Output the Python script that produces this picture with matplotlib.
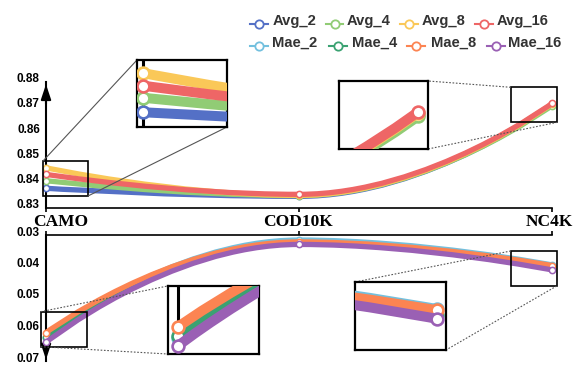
import numpy as np
import matplotlib
matplotlib.use('Agg')
import matplotlib.pyplot as plt
from matplotlib.path import Path
from matplotlib.patches import PathPatch, Rectangle
from matplotlib.lines import Line2D
from matplotlib.transforms import ScaledTranslation

# ---- data ----
cats = ['CAMO', 'COD10K', 'NC4K']
avg_names = ['Avg_2', 'Avg_4', 'Avg_8', 'Avg_16']
mae_names = ['Mae_2', 'Mae_4', 'Mae_8', 'Mae_16']
avg_2 = [0.8378, 0.8346, 0.8710]
avg_4 = [0.8408, 0.8349, 0.8705]
avg_8 = [0.8459, 0.8350, 0.8712]
avg_16 = [0.8433, 0.8354, 0.8714]
mae_2 = [0.0628, 0.0316, 0.0395]
mae_4 = [0.0625, 0.0325, 0.0405]
mae_8 = [0.0610, 0.0322, 0.0397]
mae_16 = [0.0641, 0.0330, 0.0411]
avg_ticks = [0.83, 0.84, 0.85, 0.86, 0.87, 0.88]
mae_ticks = [0.03, 0.04, 0.05, 0.06, 0.07]

avg_colors = ['#5470c6', '#91cc75', '#fac858', '#ee6666']
mae_colors = ['#73c0de', '#3ba272', '#fc8452', '#9a60b4']

W, H = 581, 371
fig = plt.figure(figsize=(W / 100, H / 100), dpi=100)


def box(l, t, r, b):
    # pixel box -> figure fraction rect
    return [l / W, 1 - b / H, (r - l) / W, (b - t) / H]


def fpt(px, py):
    return px / W, 1 - py / H


def smooth_path(ax, xs, ys, smooth=0.5):
    # echarts-like smoothing of a polyline (bezier control points in screen space)
    pts = ax.transData.transform(np.column_stack([xs, ys]))
    n = len(pts)
    verts = [pts[0]]
    codes = [Path.MOVETO]
    cp0 = pts[0]
    for i in range(1, n):
        x, y = pts[i]
        if i == n - 1:
            cp1 = pts[i]
            ncp0 = None
        else:
            px_, py_ = pts[i - 1]
            nx, ny = pts[i + 1]
            vx, vy = nx - px_, ny - py_
            l0 = np.hypot(x - px_, y - py_)
            l1 = np.hypot(nx - x, ny - y)
            r = l1 / (l0 + l1)
            ncx, ncy = x + vx * smooth * r, y + vy * smooth * r
            ncx = max(min(ncx, max(nx, x)), min(nx, x))
            ncy = max(min(ncy, max(ny, y)), min(ny, y))
            vx, vy = ncx - x, ncy - y
            c1x, c1y = x - vx * l0 / l1, y - vy * l0 / l1
            c1x = max(min(c1x, max(px_, x)), min(px_, x))
            c1y = max(min(c1y, max(py_, y)), min(py_, y))
            vx, vy = x - c1x, y - c1y
            ncp0 = (x + vx * l1 / l0, y + vy * l1 / l0)
            cp1 = (c1x, c1y)
        verts += [cp0, cp1, pts[i]]
        codes += [Path.CURVE4] * 3
        cp0 = ncp0
    verts = ax.transData.inverted().transform(np.array(verts, dtype=float))
    return Path(verts, codes)


def px_to_data(ax, px, py):
    return ax.transData.inverted().transform((px, H - py))


tick_font = dict(family='Liberation Sans', weight='bold', size=8.5)

# ---- main axes ----
ax1 = fig.add_axes(box(46, 81.5, 552, 208))
ax2 = fig.add_axes(box(46, 235, 552, 361))
x = np.arange(len(cats))

ax1.set_xlim(0, 2)
ax1.set_ylim(0.83, 0.88)
ax2.set_xlim(0, 2)
ax2.set_ylim(0.07, 0.03)

for ax, ticks, side in [(ax1, avg_ticks, 'bottom'), (ax2, mae_ticks, 'top')]:
    ax.patch.set_alpha(0)
    for s in ['left', 'right', 'top', 'bottom']:
        ax.spines[s].set_visible(False)
    ax.spines['left'].set_visible(True)
    ax.spines['left'].set_linewidth(1.5)
    ax.spines[side].set_visible(True)
    ax.spines[side].set_linewidth(1.2)
    ax.set_yticks(ticks)
    ax.set_yticklabels(['%.2f' % t for t in ticks], **tick_font)
    ax.tick_params(axis='y', length=0, pad=4.5)
    for lab in ax.get_yticklabels():
        lab.set_transform(lab.get_transform() + ScaledTranslation(0, 4 / 100, fig.dpi_scale_trans))
    ax.set_xticks(x)
    ax.set_xticklabels([])
    ax.tick_params(axis='x', length=3, width=1.2, direction='out')
    if side == 'top':
        ax.xaxis.set_ticks_position('top')

# axis arrows
ax1.annotate('', xy=(0, 1.0), xytext=(0, 0.8), xycoords='axes fraction',
             arrowprops=dict(arrowstyle='-|>,head_length=0.9,head_width=0.3', color='black', lw=1.5))
ax2.annotate('', xy=(0, -0.01), xytext=(0, 0.2), xycoords='axes fraction',
             arrowprops=dict(arrowstyle='-|>,head_length=0.9,head_width=0.3', color='black', lw=1.5))

# category labels
for name, cx in zip(cats, [60.5, 298, 549.5]):
    fx_, fy_ = fpt(cx, 226)
    fig.text(fx_, fy_, name, ha='center', va='baseline', family='Liberation Serif',
             weight='bold', size=12.5)

avg_series = [avg_2, avg_4, avg_8, avg_16]
mae_series = [mae_2, mae_4, mae_8, mae_16]
paths_avg = [smooth_path(ax1, x, s) for s in avg_series]
paths_mae = [smooth_path(ax2, x, s) for s in mae_series]


def draw_series(ax, paths, series, colors, lw, ms, mew, clip):
    for i, (p, s, c) in enumerate(zip(paths, series, colors)):
        z = 3 + i
        ax.add_patch(PathPatch(p, fill=False, edgecolor=c, lw=lw, zorder=z, clip_on=clip))
        ax.plot(x, s, 'o', ms=ms, mfc='white', mec=c, mew=mew, zorder=z + 0.5, clip_on=clip)


draw_series(ax1, paths_avg, avg_series, avg_colors, 3.8, 4.5, 1.1, False)
draw_series(ax2, paths_mae, mae_series, mae_colors, 3.8, 4.5, 1.1, False)

# ---- zoom insets ----
# (main ax, source rect px, inset rect px, connector corner pairs, show y axis, dotted)
zooms = [
    (ax1, (43, 161, 88, 196), (137, 60, 227, 127), [('lt', 'lt'), ('rb', 'rb')], True, False),
    (ax1, (510.7, 87.3, 557.3, 122.3), (339, 81, 428, 149), [('lt', 'rt'), ('rb', 'rb')], False, True),
    (ax2, (40.7, 311.7, 86.7, 346.7), (167.7, 286, 259.3, 354), [('lt', 'lt'), ('lb', 'lb')], True, True),
    (ax2, (510.7, 251, 556.7, 286), (355, 282, 446, 350), [('lt', 'lt'), ('rb', 'rb')], False, True),
]


def corner(r, key):
    l, t, rr, b = r
    return (l if key[0] == 'l' else rr), (t if key[1] == 't' else b)


for ax, src, dst, conns, yaxis, dotted in zooms:
    l, t, r, b = src
    (x0, y0) = px_to_data(ax, l, b)
    (x1, y1) = px_to_data(ax, r, t)
    fl, fb = fpt(l, b)
    fig.add_artist(Rectangle((fl, fb), (r - l) / W, (b - t) / H, transform=fig.transFigure,
                             fill=False, lw=1.2, edgecolor='black', zorder=5))
    for ks, kd in conns:
        sx, sy = fpt(*corner(src, ks))
        dx, dy = fpt(*corner(dst, kd))
        fig.add_artist(Line2D([sx, dx], [sy, dy], transform=fig.transFigure, lw=0.8,
                              color='#555555', ls=(0, (1.5, 1.5)) if dotted else '-', zorder=5))
    ins = fig.add_axes(box(*dst), zorder=6)
    ins.set_xlim(x0, x1)
    ins.set_ylim(sorted((y0, y1)) if ax is ax1 else sorted((y0, y1))[::-1])
    ins.set_xticks([])
    ins.set_yticks([])
    for s in ins.spines.values():
        s.set_linewidth(1.6)
    if yaxis:
        ins.axvline(0, color='black', lw=2.2, zorder=1)
    if ax is ax1:
        draw_series(ins, paths_avg, avg_series, avg_colors, 7.2, 8.5, 1.9, True)
    else:
        draw_series(ins, paths_mae, mae_series, mae_colors, 7.2, 8.5, 1.9, True)

# ---- legend ----
leg_rows = [
    (avg_names, avg_colors, [259, 334.5, 409, 484], [273, 347, 422, 497], 24, 25),
    (mae_names, mae_colors, [259, 338, 416, 496], [272, 352, 431, 508], 46, 47),
]
for names, colors, icons, texts, iy, ty in leg_rows:
    for name, c, ix, tx in zip(names, colors, icons, texts):
        ax_, ay_ = fpt(ix - 9, iy)
        bx_, _ = fpt(ix + 9, iy)
        fig.add_artist(Line2D([ax_, bx_], [ay_, ay_], transform=fig.transFigure, color=c, lw=1.5))
        fig.add_artist(Line2D([(ax_ + bx_) / 2], [ay_], transform=fig.transFigure, marker='o',
                              ms=6, mfc='white', mec=c, mew=1.3, lw=0))
        tfx, tfy = fpt(tx, ty)
        fig.text(tfx, tfy, name, ha='left', va='baseline', family='Liberation Sans', weight='bold',
                 size=10.6, color='#333333')

fig.savefig('out.png', dpi=100)
